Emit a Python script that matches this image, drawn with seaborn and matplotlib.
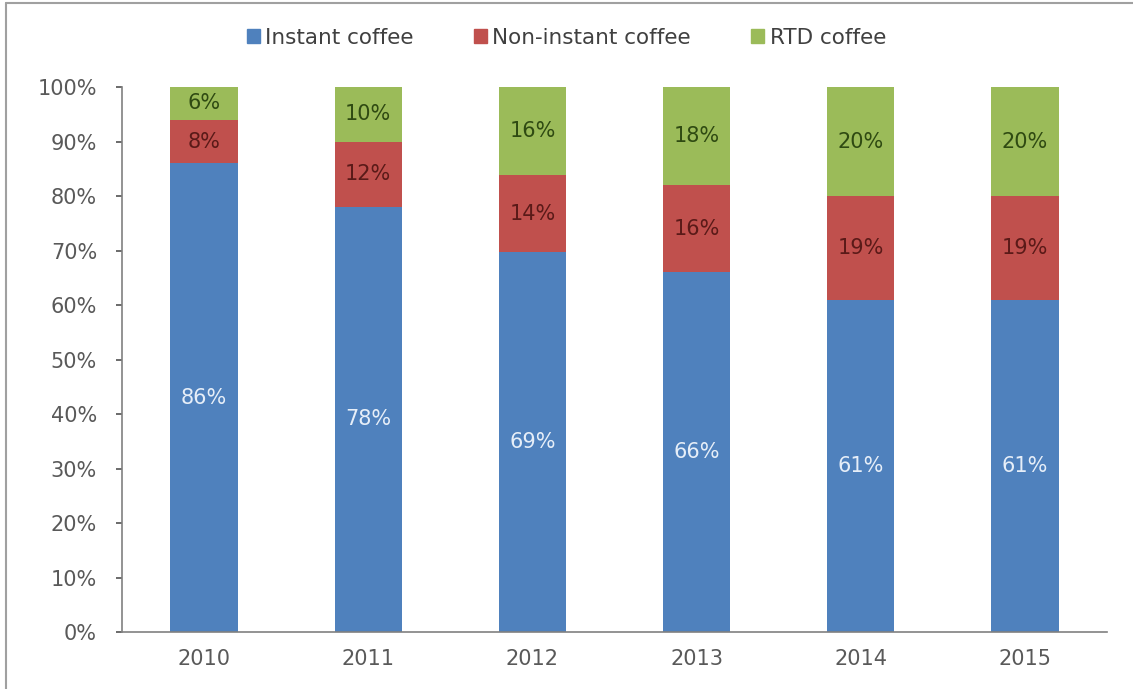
import matplotlib
matplotlib.use("Agg")
import matplotlib.pyplot as plt
import seaborn as sns
import pandas as pd
import numpy as np
from matplotlib.lines import Line2D

years = ["2010", "2011", "2012", "2013", "2014", "2015"]
instant = [86, 78, 69, 66, 61, 61]
non_instant = [8, 12, 14, 16, 19, 19]
rtd = [6, 10, 16, 18, 20, 20]
series_names = ["Instant coffee", "Non-instant coffee", "RTD coffee"]
y_ticks = [0, 10, 20, 30, 40, 50, 60, 70, 80, 90, 100]

colors = ["#4F81BD", "#C0504D", "#9BBB59"]
label_colors = ["#E6EEF8", "#5A1A18", "#2F4A12"]

sns.set_theme(style="white")
plt.rcParams["font.family"] = ["DejaVu Sans"]

fig = plt.figure(figsize=(11.33, 6.89), dpi=100)
ax = fig.add_axes([0.1077, 0.0827, 0.8693, 0.791])

vals = np.array([instant, non_instant, rtd], dtype=float).T
totals = vals.sum(axis=1)
pct = vals / totals[:, None] * 100  # 100% stacked
cum = np.cumsum(pct, axis=1)

# draw cumulative bars from the top series down so each lower one covers the rest
for i in reversed(range(len(series_names))):
    d = pd.DataFrame({"year": years, "val": cum[:, i]})
    sns.barplot(data=d, x="year", y="val", color=colors[i], width=0.41,
                linewidth=0, edgecolor="none", saturation=1, ax=ax, zorder=2)

for i in range(len(series_names)):
    base = cum[:, i] - pct[:, i]
    for j in range(len(years)):
        ax.text(j, base[j] + pct[j, i] / 2, f"{int(vals[j, i])}%",
                ha="center", va="center", fontsize=15, color=label_colors[i], zorder=3)

sns.despine(ax=ax, top=True, right=True)
ax.set_xlim(-0.5, len(years) - 0.5)
ax.set_ylim(0, 100)
ax.set_yticks(y_ticks)
ax.set_yticklabels([f"{t}%" for t in y_ticks])
ax.tick_params(axis="both", labelsize=15, colors="#595959", length=4, direction="out",
               left=True, bottom=False)
ax.tick_params(axis="y", pad=14)
ax.tick_params(axis="x", pad=8)
for s in ["left", "bottom"]:
    ax.spines[s].set_color("#808080")
    ax.spines[s].set_linewidth(1.2)
ax.set_xlabel("")
ax.set_ylabel("")

handles = [plt.Rectangle((0, 0), 1, 1, color=c) for c in colors]
fig.legend(handles, series_names, loc="center", bbox_to_anchor=(0.5, 0.945), ncol=3,
           frameon=False, fontsize=15.5, handlelength=0.6, handleheight=0.6,
           handletextpad=0.25, columnspacing=2.8, labelcolor="#404040")

# figure frame (top and left edges)
fig.add_artist(Line2D([0.0055, 0.0055], [0, 0.996], transform=fig.transFigure,
                      color="#A0A0A0", lw=1.5))
fig.add_artist(Line2D([0.0055, 1], [0.996, 0.996], transform=fig.transFigure,
                      color="#A0A0A0", lw=1.5))

fig.savefig("out.png", dpi=100)
